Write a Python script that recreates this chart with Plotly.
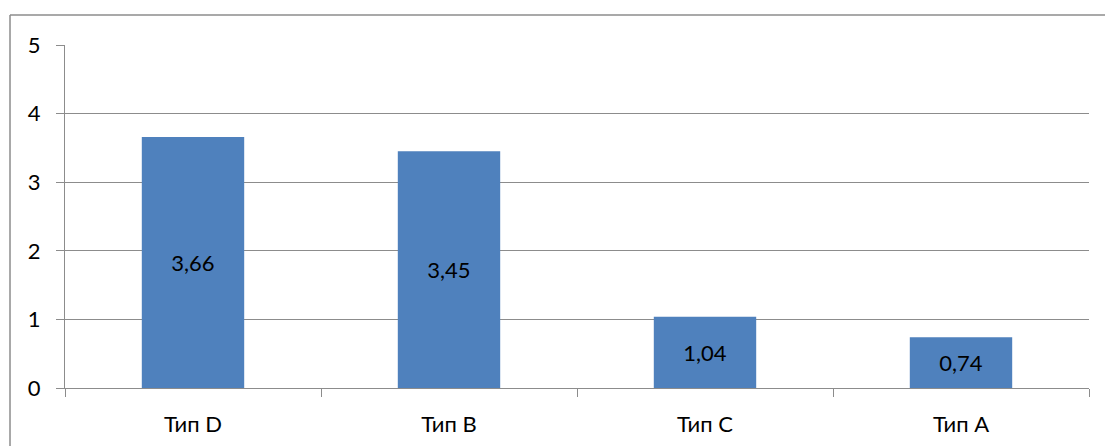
import plotly.graph_objects as go

categories = ["Тип D", "Тип B", "Тип C", "Тип A"]
values = [3.66, 3.45, 1.04, 0.74]
y_ticks = [0, 1, 2, 3, 4, 5]

GRID = "#8c8c8c"
FONT = "Lato, 'Open Sans', sans-serif"

fig = go.Figure(
    go.Bar(
        x=categories,
        y=values,
        width=0.4,
        marker=dict(color="#4F81BD", line=dict(width=0)),
        texttemplate="%{y:.2f}",
        textposition="inside",
        insidetextanchor="middle",
        textangle=0,
        textfont=dict(color="#000000", size=22, family=FONT),
        hoverinfo="skip",
    )
)

fig.update_layout(
    width=1105,
    height=446,
    margin=dict(l=65, r=16, t=45, b=58, autoexpand=False),
    paper_bgcolor="white",
    plot_bgcolor="white",
    separators=", ",
    showlegend=False,
    font=dict(family=FONT, size=22, color="#000000"),
    xaxis=dict(
        type="category",
        automargin=False,
        tickson="boundaries",
        ticks="outside",
        ticklen=8,
        tickcolor=GRID,
        showgrid=False,
        showline=True,
        linecolor=GRID,
        linewidth=1,
        tickfont=dict(size=22),
        ticklabelstandoff=17,
    ),
    yaxis=dict(
        range=[0, 5],
        automargin=False,
        tickvals=y_ticks,
        ticks="outside",
        ticklen=8,
        tickcolor=GRID,
        showgrid=True,
        gridcolor=GRID,
        gridwidth=1,
        showline=True,
        linecolor=GRID,
        linewidth=1,
        zeroline=False,
        tickfont=dict(size=22),
        ticklabelstandoff=11,
    ),
    shapes=[
        dict(type="line", xref="paper", yref="paper",
             x0=-0.0537, x1=1.05, y0=1.0875, y1=1.0875,
             line=dict(color=GRID, width=1.5)),
        dict(type="line", xref="paper", yref="paper",
             x0=-0.0537, x1=-0.0537, y0=1.0875, y1=-0.3,
             line=dict(color=GRID, width=1.5)),
    ],
)

fig.write_html(
    "out.html",
    config={"displayModeBar": False},
    post_script="document.body.style.margin='0px';document.body.style.overflow='hidden';",
)
